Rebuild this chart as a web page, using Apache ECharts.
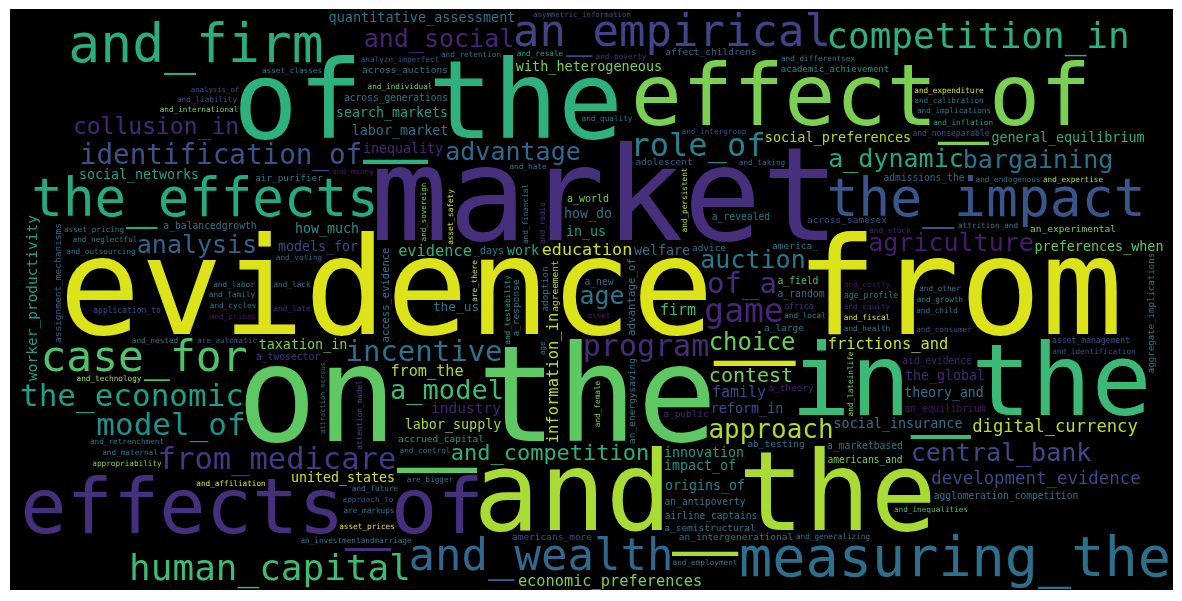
<!DOCTYPE html>
<html lang="en">
<head>
    <meta charset="UTF-8">
    <title>word cloud</title>
    <style>
        html, body { margin: 0; padding: 0; background: #fff; }
        #main { width: 1182px; height: 601px; }
    </style>
</head>
<body>
<div id="main"></div>
<script src="https://cdn.jsdelivr.net/npm/echarts@6/dist/echarts.min.js"></script>
<script>
    // words (largest first)
    const words = [
        'evidence_from', 'market', 'on_the', 'and_the', 'of_the', 'in_the',
        'effect_of', 'effects_of', 'measuring_the', 'the_effects', 'the_impact', 'and_firm',
        'and_wealth', 'an_empirical', 'case_for', 'human_capital', 'competition_in', 'from_medicare',
        'game', 'role_of', 'the_economic', 'model_of', 'identification_of', 'program',
        'of_a', 'incentive', 'a_model', 'approach', 'agriculture', 'advantage',
        'a_dynamic', 'analysis', 'central_bank', 'bargaining', 'auction', 'and_social',
        'age', 'choice', 'collusion_in', 'and_competition', 'contest', 'development_evidence',
        'digital_currency', 'education', 'information_in', 'frictions_and', 'economic_preferences', 'evidence',
        'from_the', 'family', 'firm', 'industry', 'worker_productivity', 'social_insurance',
        'models_for', 'search_markets', 'welfare', 'social_preferences', 'how_much', 'labor_supply',
        'taxation_in', 'innovation', 'in_us', 'labor_market', 'impact_of', 'reform_in',
        'how_do', 'the_us', 'inequality', 'quantitative_assessment', 'united_states', 'work',
        'theory_and', 'the_global', 'social_networks', 'preferences_when', 'general_equilibrium', 'with_heterogeneous',
        'origins_of', 'access_evidence', 'advantage_of', 'a_world', '_days', 'a_large',
        'adolescent', 'agreement', 'admissions_the', 'across_generations', 'agglomeration_competition', 'adoption',
        'a_random', 'advice', 'a_new', 'academic_achievement', 'across_samesex', 'a_revealed',
        'aid_evidence', 'accrued_capital', 'assignment_mechanisms', 'an_equilibrium', 'a_marketbased', 'a_field',
        'a_balancedgrowth', 'america_', 'an_antipoverty', 'a_twosector', 'a_public', 'a_theory',
        'a_semistructural', 'a_response', 'ab_testing', 'air_purifier', 'across_auctions', 'americans_and',
        'an_intergenerational', 'an_experimental', 'an_energysaving', 'airline_captains', 'americans_more', 'aggregate_implications',
        'affect_childrens', 'asset_management', 'age_profile', 'africa', 'and_nonseparable', 'application_to',
        'and_equity', 'and_intergroup', 'are_automatic', 'and_individual', 'and_endogenous', 'and_outsourcing',
        'and_testability', 'and_neglectful', 'and_costly', 'an_investmentandmarriage', 'and_fiscal', 'and_identification',
        'and_health', 'and_voting', 'attrition_and', 'and_retention', 'and_technology', 'and_local',
        'and_control', 'analyze_imperfect', 'and_affiliation', 'and_implications', 'and_taking', 'are_there',
        'and_hate', 'and_radio', 'and_consumer', 'and_financial', 'and_persistent', 'and_inflation',
        'age_', 'and_differentsex', 'and_stock', 'asset_safety', 'and_sovereign', 'and_late',
        'asymmetric_information', 'and_growth', 'and_generalizing', 'and_child', 'and_calibration', 'and_family',
        'and_quality', 'and_lateinlife', 'and_inequalities', 'asset_pricing', 'and_other', 'and_cycles',
        'and_expertise', 'attraction_versus', 'attention_model', 'and_lack', 'and_employment', 'and_prices',
        'are_bigger', 'and_future', 'and_nested', 'and_female', 'approach_to', 'are_markups',
        'and_poverty', 'and_resale', 'asset_prices', 'and_money', 'and_international', 'and_retrenchment',
        'and_labor', 'and_expenditure', 'asset_classes', 'analysis_of', 'and_liability', 'asset',
        'and_maternal', 'appropriability'
    ];

    // relative weight of each word (same order)
    const weights = [
        136, 130, 133, 110, 108, 100,
        85, 77, 60, 57, 53, 53,
        44, 44, 43, 36, 36, 36,
        33, 32, 31, 31, 30, 30,
        29, 29, 27, 26, 25, 25,
        25, 25, 25, 25, 25, 25,
        25, 24, 23, 22, 20, 17.4,
        17.2, 16.7, 15.5, 15.4, 15.3, 15.3,
        15.2, 15, 15, 14.5, 14.5, 13.4,
        13.3, 13.3, 13.3, 13.5, 13.3, 13.4,
        13.4, 13.3, 13.3, 13.4, 13.3, 13.4,
        13.3, 12.8, 13.3, 13.5, 13.3, 13.3,
        13.2, 13.3, 13.3, 13.4, 13.4, 13.5,
        13.3, 10.5, 10.8, 10, 10, 9.5,
        9.5, 9.5, 9.6, 9.6, 9.6, 9.4,
        9.8, 9.4, 9.7, 9, 9.5, 9.7,
        9.6, 9.5, 9.5, 9.6, 9.7, 9.7,
        9.7, 9.5, 9.6, 9.7, 9.4, 9.4,
        9.5, 9.5, 9.5, 9.4, 9.5, 9.6,
        9.5, 9.5, 9.5, 9.6, 9.5, 9.1,
        9.5, 8.1, 8.2, 8, 8, 8,
        7.7, 7.7, 7.7, 7.7, 7.7, 7.7,
        7.7, 7.7, 7.7, 7.7, 7.7, 7.7,
        7.7, 7.7, 7.7, 7.7, 7.7, 7.7,
        7.7, 7.7, 7.7, 7.7, 7.7, 7.7,
        7.7, 7.7, 7.7, 7.7, 7.7, 7.7,
        7.7, 7.7, 7.7, 7.7, 7.5, 7.7,
        7.4, 7.7, 7.7, 7.7, 7.7, 7.7,
        7.7, 7.7, 7.7, 7.7, 7.7, 7.7,
        7.7, 7.0, 7.7, 7.7, 7.7, 7.7,
        7.7, 7.7, 7.7, 7.7, 7.7, 7.7,
        7.7, 7.7, 7.7, 7.7, 7.7, 7.7,
        7.7, 7.7, 7.7, 7.3, 7.7, 7.7,
        7.7, 7.7
    ];

    // viridis colour picked for each word (same order)
    const colors = [
        '#dce319', '#472f7d', '#5ec962', '#a8db34', '#2db27d', '#3aba76',
        '#7ad151', '#46307e', '#2d708e', '#25ab82', '#39568c', '#29af7f',
        '#31688e', '#414487', '#4ec36b', '#3fbc73', '#2db27d', '#443a83',
        '#482677', '#26828e', '#1f9e89', '#21918c', '#3b528b', '#472c7a',
        '#472d7b', '#2c728e', '#3fbc73', '#addc30', '#481b6d', '#31688e',
        '#22a884', '#33638d', '#3e4989', '#2c728e', '#2a788e', '#482475',
        '#2a788e', '#6ccd5a', '#482979', '#2db27d', '#7ad151', '#3e4a89',
        '#b8de29', '#d0e11c', '#bddf26', '#cae11f', '#7ad151', '#2fb47c',
        '#a5db36', '#3e4989', '#3fbc73', '#482475', '#1f9e89', '#2a788e',
        '#3e4989', '#1f9e89', '#2c728e', '#addc30', '#21918c', '#a2da37',
        '#7ad151', '#1f9e89', '#1f9e89', '#2c728e', '#21918c', '#3b528b',
        '#2c728e', '#2c728e', '#482878', '#2a788e', '#d2e21b', '#22a884',
        '#2a788e', '#482878', '#20a386', '#5ec962', '#2ab07f', '#7ad151',
        '#26828e', '#2a788e', '#2a788e', '#7ad151', '#2a788e', '#2a788e',
        '#31688e', '#bddf26', '#31688e', '#2a788e', '#2a788e', '#2a788e',
        '#2c728e', '#2a788e', '#31688e', '#21918c', '#3b528b', '#2a788e',
        '#482475', '#1f9e89', '#31688e', '#481668', '#2a788e', '#4ac16d',
        '#2a788e', '#2a788e', '#2a788e', '#453781', '#482878', '#482475',
        '#2a788e', '#2a788e', '#2a788e', '#2a788e', '#2a788e', '#7ad151',
        '#2a788e', '#7ad151', '#2a788e', '#2a788e', '#3b528b', '#2a788e',
        '#31688e', '#3b528b', '#2a788e', '#46307e', '#3b528b', '#3b528b',
        '#482475', '#3b528b', '#39568c', '#7ad151', '#2c728e', '#2a788e',
        '#1f9e89', '#26828e', '#481467', '#2a788e', '#d8e219', '#3b528b',
        '#2a788e', '#31688e', '#2a788e', '#2c728e', '#a5db36', '#26828e',
        '#2c728e', '#3b528b', '#d8e219', '#2a788e', '#31688e', '#bddf26',
        '#2a788e', '#46307e', '#3b528b', '#2c728e', '#bddf26', '#1f9e89',
        '#2a788e', '#2a788e', '#482475', '#d8e219', '#7ad151', '#46307e',
        '#3b528b', '#26828e', '#2a788e', '#2c728e', '#2c728e', '#2a788e',
        '#2a788e', '#7ad151', '#4ac16d', '#2a788e', '#2a788e', '#2a788e',
        '#a5db36', '#2c728e', '#3b528b', '#2c728e', '#2a788e', '#481668',
        '#2a788e', '#2a788e', '#2a788e', '#7ad151', '#3b528b', '#2a788e',
        '#46307e', '#1f9e89', '#d8e219', '#481467', '#7ad151', '#2a788e',
        '#2a788e', '#d8e219', '#2a788e', '#3b528b', '#3b528b', '#481668',
        '#2c728e', '#7ad151'
    ];

    // words that are set upright (reading bottom to top)
    const vertical = [
        'and_firm', 'information_in', 'worker_productivity', 'access_evidence', 'advantage_of',
        'agreement', 'adoption', 'assignment_mechanisms', 'a_response', 'an_energysaving',
        'aggregate_implications', 'and_testability', 'are_there', 'and_radio', 'and_financial',
        'and_persistent', 'age_', 'asset_safety', 'and_sovereign', 'and_lateinlife',
        'attraction_versus', 'attention_model', 'and_female'
    ];

    if (words.length !== weights.length || words.length !== colors.length) {
        throw new Error('length mismatch ' + words.length + ' ' + weights.length + ' ' + colors.length);
    }

    const SIZE_K = 1;                       // px of type per unit of weight
    const FONT = '"DejaVu Sans Mono", monospace';
    const FRAME = { x: 10, y: 9, w: 1163, h: 581 };
    const PAD = 2;

    // candidate anchor points, nearest to the middle (elliptic) first
    function buildOrder(W, H) {
        const K = 3000, cx = W / 2, cy = H / 2;
        const keys = new Int32Array(W * H);
        let maxKey = 0;
        for (let y = 0; y < H; y++) {
            for (let x = 0; x < W; x++) {
                const dx = (x - cx) / cx, dy = (y - cy) / cy;
                const k = Math.round(Math.sqrt(dx * dx + dy * dy) * K);
                keys[y * W + x] = k;
                if (k > maxKey) maxKey = k;
            }
        }
        const counts = new Int32Array(maxKey + 2);
        for (let i = 0; i < keys.length; i++) counts[keys[i] + 1]++;
        for (let i = 1; i < counts.length; i++) counts[i] += counts[i - 1];
        const order = new Int32Array(W * H);
        for (let i = 0; i < keys.length; i++) order[counts[keys[i]]++] = i;
        return order;
    }

    function layoutCloud() {
        const W = FRAME.w, H = FRAME.h, R = W + 1;
        const occ = new Uint8Array(W * H);
        const sat = new Int32Array((W + 1) * (H + 1));
        const order = buildOrder(W, H);
        const cvs = document.createElement('canvas');
        cvs.width = W; cvs.height = H;
        const ctx = cvs.getContext('2d', { willReadFrequently: true });
        const rank = words.map((w, i) => i).sort((a, b) => weights[b] - weights[a]);
        const placed = [];

        function boxSum(x0, y0, x1, y1) {
            x0 = Math.max(0, x0); y0 = Math.max(0, y0);
            x1 = Math.min(W, x1); y1 = Math.min(H, y1);
            return sat[y1 * R + x1] - sat[y0 * R + x1] - sat[y1 * R + x0] + sat[y0 * R + x0];
        }

        function rebuildSat() {
            for (let y = 0; y < H; y++) {
                let run = 0;
                for (let x = 0; x < W; x++) {
                    run += occ[y * W + x];
                    sat[(y + 1) * R + x + 1] = sat[y * R + x + 1] + run;
                }
            }
        }

        function extent(text, size, rot) {
            ctx.font = size + 'px ' + FONT;
            ctx.textAlign = 'center';
            ctx.textBaseline = 'middle';
            const m = ctx.measureText(text);
            const l = Math.ceil(m.actualBoundingBoxLeft), r = Math.ceil(m.actualBoundingBoxRight);
            const a = Math.ceil(m.actualBoundingBoxAscent), d = Math.ceil(m.actualBoundingBoxDescent);
            return rot ? { ox: -a, oy: -r, w: a + d, h: l + r } : { ox: -l, oy: -a, w: l + r, h: a + d };
        }

        function findSpot(b) {
            for (let k = 0; k < order.length; k++) {
                const p = order[k];
                if (occ[p]) continue;
                const cx = p % W, cy = (p / W) | 0;
                const x0 = cx + b.ox, y0 = cy + b.oy;
                if (x0 < 0 || y0 < 0 || x0 + b.w > W || y0 + b.h > H) continue;
                if (boxSum(x0 - PAD, y0 - PAD, x0 + b.w + PAD, y0 + b.h + PAD) === 0) return [cx, cy];
            }
            return null;
        }

        for (const i of rank) {
            const text = words[i];
            let size = weights[i] * SIZE_K;
            let rot = vertical.includes(text);
            let spot = null, b = null;
            for (let t = 0; t < 25 && !spot; t++) {
                b = extent(text, size, rot);
                spot = findSpot(b);
                if (!spot) {
                    b = extent(text, size, !rot);
                    spot = findSpot(b);
                    if (spot) rot = !rot; else size *= 0.92;
                }
            }
            if (!spot) continue;
            const [cx, cy] = spot;

            ctx.font = size + 'px ' + FONT;
            ctx.textAlign = 'center';
            ctx.textBaseline = 'middle';
            ctx.save();
            ctx.translate(cx, cy);
            if (rot) ctx.rotate(-Math.PI / 2);
            ctx.fillStyle = '#fff';
            ctx.fillText(text, 0, 0);
            ctx.restore();

            const rx = Math.max(0, cx + b.ox - 2), ry = Math.max(0, cy + b.oy - 2);
            const rw = Math.min(W, cx + b.ox + b.w + 2) - rx, rh = Math.min(H, cy + b.oy + b.h + 2) - ry;
            const img = ctx.getImageData(rx, ry, rw, rh).data;
            for (let y = 0; y < rh; y++) {
                for (let x = 0; x < rw; x++) {
                    if (img[(y * rw + x) * 4 + 3] > 16) occ[(ry + y) * W + rx + x] = 1;
                }
            }
            ctx.clearRect(rx, ry, rw, rh);
            rebuildSat();
            placed.push({ i, cx, cy, size, rot });
        }
        return placed;
    }

    const placed = layoutCloud();

    const myChart = echarts.init(document.getElementById('main'));

    const option = {
        backgroundColor: '#fff',
        animation: false,
        graphic: [{
            type: 'rect',
            shape: { x: FRAME.x, y: FRAME.y, width: FRAME.w, height: FRAME.h },
            style: { fill: '#000' },
            z: 0
        }],
        series: [{
            type: 'custom',
            coordinateSystem: 'none',
            z: 5,
            data: placed.map(p => p.i),
            renderItem: function (params) {
                const p = placed[params.dataIndex];
                return {
                    type: 'text',
                    x: FRAME.x + p.cx,
                    y: FRAME.y + p.cy,
                    rotation: p.rot ? Math.PI / 2 : 0,
                    style: {
                        text: words[p.i],
                        font: p.size + 'px ' + FONT,
                        fill: colors[p.i],
                        align: 'center',
                        verticalAlign: 'middle',
                        textAlign: 'center',
                        textVerticalAlign: 'middle'
                    }
                };
            }
        }]
    };

    myChart.setOption(option);
</script>
</body>
</html>
